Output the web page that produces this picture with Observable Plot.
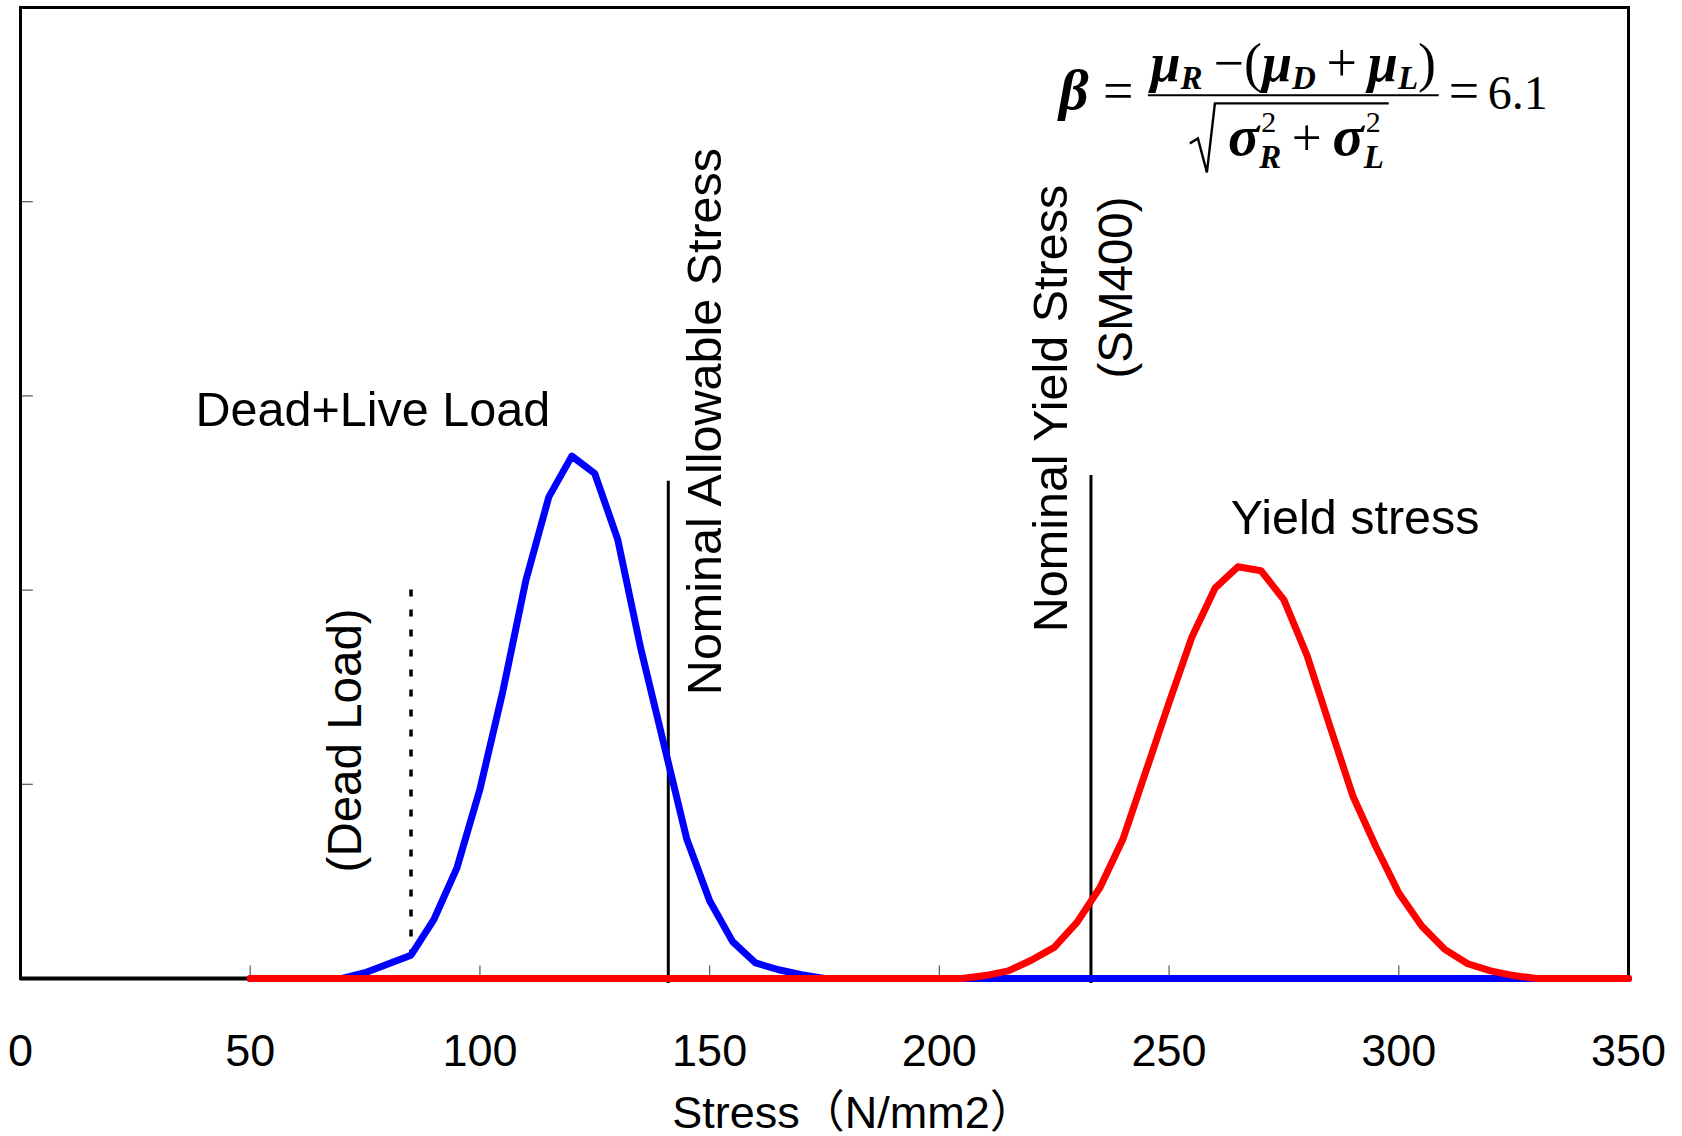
<!DOCTYPE html>
<html>
<head>
<meta charset="utf-8">
<script src="https://cdn.jsdelivr.net/npm/d3@7"></script>
<script src="https://cdn.jsdelivr.net/npm/@observablehq/plot@0.6"></script>
<style>
  html, body { margin: 0; padding: 0; background: #fff; }
  svg { display: block; }
</style>
</head>
<body>
<div id="chart"></div>
<script>
// ---- data ----
const stress = [50,55,60,65,70,75,80,85,90,95,100,105,110,115,120,125,130,135,140,145,
  150,155,160,165,170,175,180,185,190,195,200,205,210,215,220,225,230,235,240,245,
  250,255,260,265,270,275,280,285,290,295,300,305,310,315,320,325,330,335,340,345,350];
// Dead+Live Load distribution (blue)
const loadDensity = [0,0,0,0,0,0.03,0.075,0.12,0.305,0.57,0.975,1.48,2.05,2.48,2.69,2.6,2.26,1.7,1.21,0.72,
  0.4,0.19,0.08,0.045,0.02,0,0,0,0,0,0,0,0,0,0,0,0,0,0,0,
  0,0,0,0,0,0,0,0,0,0,0,0,0,0,0,0,0,0,0,0,0];
// Yield stress distribution (red)
const yieldDensity = [0,0,0,0,0,0,0,0,0,0,0,0,0,0,0,0,0,0,0,0,
  0,0,0,0,0,0,0,0,0,0,0,0,0.015,0.039,0.094,0.16,0.29,0.47,0.72,1.07,
  1.42,1.76,2.01,2.12,2.1,1.95,1.665,1.3,0.94,0.68,0.44,0.27,0.15,0.076,0.039,0.015,0,0,0,0,0];

const xTicks = [0,50,100,150,200,250,300,350];
const yTicks = [1,2,3,4];
const xLabel = "Stress（N/mm2）";

const deadLoad = 85, deadLoadTop = 2.0;
const allowableStress = 141, allowableTop = 2.56;
const nominalYield = 233, nominalYieldTop = 2.59;

const loadLabel = "Dead+Live Load";
const yieldLabel = "Yield stress";
const deadLabel = "(Dead Load)";
const allowLabel = "Nominal Allowable Stress";
const nomYieldLabel = "Nominal Yield Stress";
const smLabel = "(SM400)";
const betaValue = "6.1";

// ---- tables ----
const loadData = stress.map((x, i) => ({x, y: loadDensity[i]}));
const yieldData = stress.map((x, i) => ({x, y: yieldDensity[i]}));
const deadLoadBottom = loadDensity[stress.indexOf(deadLoad)];

const sans = "'Liberation Sans', Arial, 'Noto Sans CJK JP', sans-serif";
const serif = "'Liberation Serif', 'Times New Roman', 'DejaVu Serif', serif";

const plot = Plot.plot({
  width: 1682,
  height: 1136,
  marginLeft: 20,
  marginRight: 54,
  marginTop: 7,
  marginBottom: 158,
  x: {domain: [0, 350], axis: null},
  y: {domain: [0, 5], axis: null},
  style: {fontFamily: sans, background: "white", color: "black", overflow: "visible"},
  marks: [
    // inward tick marks
    Plot.ruleX(xTicks.slice(1, -1), {x: d => d, y1: 0, y2: 0.065, stroke: "#555", strokeWidth: 1.2}),
    Plot.ruleY(yTicks, {y: d => d, x1: 0, x2: 2.8, stroke: "#555", strokeWidth: 1.2}),
    // tick labels
    Plot.text(xTicks, {x: d => d, y: 0, dy: 73, text: d => String(d), fontSize: 45, fill: "black"}),
    Plot.text([xLabel], {x: 181.3, y: 0, dy: 135, text: d => d, fontSize: 45, fill: "black"}),
    // frame
    Plot.frame({stroke: "black", strokeWidth: 3}),
    Plot.ruleY([0], {x1: 0, x2: 50, stroke: "black", strokeWidth: 4}),
    // reference lines
    Plot.ruleX([deadLoad], {x: d => d, y1: deadLoadTop, y2: deadLoadBottom, stroke: "black", strokeWidth: 3.5, strokeDasharray: "7,13"}),
    Plot.ruleX([allowableStress], {x: d => d, y1: allowableTop, y2: 0, stroke: "black", strokeWidth: 3, insetBottom: -5}),
    Plot.ruleX([nominalYield], {x: d => d, y1: nominalYieldTop, y2: 0, stroke: "black", strokeWidth: 3, insetBottom: -5}),
    // series
    Plot.line(loadData, {x: "x", y: "y", stroke: "#0000ff", strokeWidth: 7, strokeLinejoin: "round", strokeLinecap: "round"}),
    Plot.line(yieldData, {x: "x", y: "y", stroke: "#ff0000", strokeWidth: 7, strokeLinejoin: "round", strokeLinecap: "round"}),
    // labels
    Plot.text([loadLabel], {x: 38.1, y: 2.925, text: d => d, textAnchor: "start", fontSize: 48.5, fill: "black"}),
    Plot.text([yieldLabel], {x: 263.4, y: 2.369, text: d => d, textAnchor: "start", fontSize: 48.5, fill: "black"}),
    Plot.text([deadLabel], {x: 70.7, y: 1.226, text: d => d, rotate: -90, fontSize: 47.5, fill: "black"}),
    Plot.text([allowLabel], {x: 149.1, y: 2.868, text: d => d, rotate: -90, fontSize: 48.5, fill: "black"}),
    Plot.text([nomYieldLabel], {x: 224.4, y: 2.935, text: d => d, rotate: -90, fontSize: 48.5, fill: "black"}),
    Plot.text([smLabel], {x: 238.6, y: 3.558, text: d => d, rotate: -90, fontSize: 47.5, fill: "black"})
  ]
});

// ---- reliability index formula (annotation) ----
const fx = plot.scale("x").apply, fy = plot.scale("y").apply;
const ax = fx(245.5), ax2 = fx(308.8), ay = fy(4.545);
const svg = d3.select(plot);
const g = svg.append("g").attr("font-family", serif).attr("fill", "black").attr("text-anchor", "start");

const bi = sel => sel.attr("font-weight", "bold").attr("font-style", "italic");

bi(g.append("text").attr("x", ax - 89).attr("y", ay + 14).attr("font-size", 58)).text("β");
g.append("text").attr("x", ax - 45).attr("y", ay + 14).attr("font-size", 54).text("=");
g.append("line").attr("x1", ax).attr("x2", ax2).attr("y1", ay).attr("y2", ay)
  .attr("stroke", "black").attr("stroke-width", 2);

// numerator
const num = g.append("text").attr("x", (ax + ax2) / 2).attr("y", ay - 14)
  .attr("text-anchor", "middle").attr("font-size", 54);
bi(num.append("tspan")).text("μ");
bi(num.append("tspan")).attr("font-size", 33).attr("dy", 8).text("R");
num.append("tspan").attr("font-size", 54).attr("dy", -8).text("\u2009−(");
bi(num.append("tspan")).text("μ");
bi(num.append("tspan")).attr("font-size", 33).attr("dy", 8).text("D");
num.append("tspan").attr("font-size", 54).attr("dy", -8).text("\u2009+\u2009");
bi(num.append("tspan")).text("μ");
bi(num.append("tspan")).attr("font-size", 33).attr("dy", 8).text("L");
num.append("tspan").attr("font-size", 54).attr("dy", -8).text(")");

// denominator
const den = g.append("text").attr("x", ax + 158).attr("y", ay + 60)
  .attr("text-anchor", "middle").attr("font-size", 58);
bi(den.append("tspan")).text("σ");
den.append("tspan").attr("font-size", 30).attr("dx", 2).attr("dy", -23).text("2");
bi(den.append("tspan")).attr("font-size", 33).attr("dx", -17).attr("dy", 36).text("R");
den.append("tspan").attr("font-size", 53).attr("dy", -13).text("\u2009+\u2009");
bi(den.append("tspan")).attr("font-size", 58).text("σ");
den.append("tspan").attr("font-size", 30).attr("dx", 2).attr("dy", -23).text("2");
bi(den.append("tspan")).attr("font-size", 33).attr("dx", -17).attr("dy", 36).text("L");

// radical sign
g.append("path")
  .attr("d", `M${ax + 42},${ay + 48} L${ax + 50},${ay + 43} L${ax + 59},${ay + 77} L${ax + 67},${ay + 8} H${ax2 - 50}`)
  .attr("fill", "none").attr("stroke", "black").attr("stroke-width", 2.4).attr("stroke-linejoin", "miter");

g.append("text").attr("x", ax2 + 10).attr("y", ay + 14).attr("font-size", 54).text("=");
g.append("text").attr("x", ax2 + 49).attr("y", ay + 14).attr("font-size", 48).text(betaValue);

document.getElementById("chart").appendChild(plot);
</script>
</body>
</html>
